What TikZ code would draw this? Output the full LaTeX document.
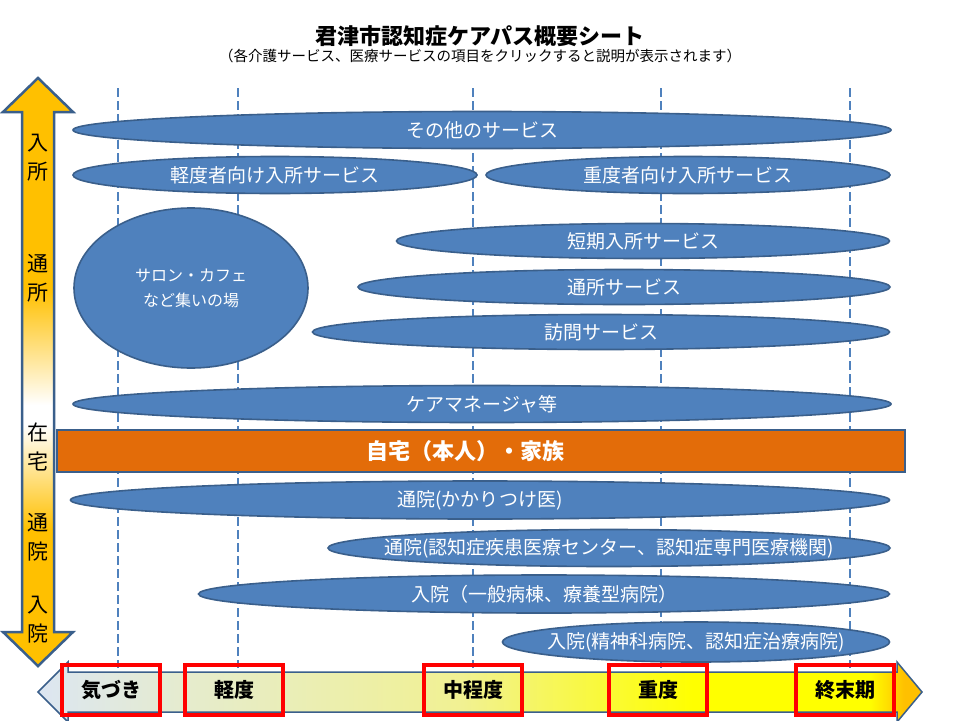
\documentclass[tikz,border=0pt]{standalone}
\usepackage{fontspec}
\setmainfont{Noto Sans CJK JP}
\usepackage{tikz}
\usetikzlibrary{shapes.geometric}

\definecolor{svcblue}{HTML}{4F81BD}
\definecolor{svcline}{HTML}{3A5F8B}
\definecolor{homeorange}{HTML}{E36C09}
\definecolor{amber}{HTML}{FFC000}
\definecolor{earlygrey}{HTML}{DCE6F2}
\definecolor{palegreen}{HTML}{E6ECCB}
\definecolor{paleyellow}{HTML}{F1F192}

% vertical shading of the left arrow: amber at both ends, white at home
\pgfdeclareverticalshading{stayshade}{100bp}{color(0bp)=(amber); color(36.6bp)=(amber); color(45.5bp)=(white); color(47.2bp)=(white); color(57bp)=(amber); color(100bp)=(amber)}
% horizontal shading of the stage arrow
\pgfdeclarehorizontalshading{stageshade}{100bp}{color(0bp)=(earlygrey); color(25bp)=(earlygrey); color(34bp)=(palegreen); color(49bp)=(paleyellow); color(62bp)=(yellow); color(72bp)=(yellow); color(74bp)=(amber); color(100bp)=(amber)}

\tikzset{
  svc/.style 2 args={ellipse, draw=svcline, fill=svcblue, line width=1.6pt,
    minimum width=#1, minimum height=#2, inner sep=0pt},
  svclabel/.style={text=white, font=\fontsize{19}{23}\selectfont},
  guide/.style={svcblue, line width=2pt, dash pattern=on 9pt off 4pt},
  stagebox/.style={draw=red, line width=4.5pt, minimum width=98pt, minimum height=50pt,
    inner sep=0pt, font=\fontsize{20}{24}\selectfont\bfseries},
  sidelabel/.style={align=center, font=\fontsize{21}{29}\selectfont}
}

\begin{document}
\begin{tikzpicture}[x=1pt,y=-1pt]
\useasboundingbox (0,0) rectangle (960,720);
\fill[white] (0,0) rectangle (960,720);
% title
\node[font=\fontsize{22}{26}\selectfont\bfseries] (title) at (480,36) {君津市認知症ケアパス概要シート};
\node[font=\fontsize{14.5}{17}\selectfont] (subtitle) at (480,56) {（各介護サービス、医療サービスの項目をクリックすると説明が表示されます）};
% stage guides
\foreach \x in {118,238,473,661,850}
  \draw[guide] (\x,88) -- (\x,668);
% services
\node[svc={818pt}{37pt}, label={[svclabel]center:その他のサービス}] (other) at (482,130) {};
\node[svc={404pt}{37pt}, label={[svclabel]center:軽度者向け入所サービス}] (mildres) at (275,175) {};
\node[svc={404pt}{37pt}, label={[svclabel]center:重度者向け入所サービス}] (severeres) at (688,175) {};
\node[svc={234pt}{160pt}, label={[svclabel,align=center,font=\fontsize{16}{25}\selectfont]center:サロン・カフェ\\など集いの場}] (salon) at (191,288) {};
\node[svc={493pt}{35pt}, label={[svclabel]center:短期入所サービス}] (shortstay) at (643,241) {};
\node[svc={532pt}{35pt}, label={[svclabel]center:通所サービス}] (daycare) at (624,287) {};
\node[svc={577pt}{35pt}, label={[svclabel]center:訪問サービス}] (visit) at (601,332) {};
\node[svc={818pt}{37pt}, label={[svclabel]center:ケアマネージャ等}] (caremgr) at (482,404) {};
% home
\node[draw=svcline, fill=homeorange, line width=2.5pt, minimum width=848pt, minimum height=42pt, inner sep=0pt,
  label={[xshift=-16pt, text=white, font=\fontsize{22}{26}\selectfont\bfseries]center:自宅（本人）・家族}] (home) at (481,451) {};
% medical
\node[svc={819pt}{38pt}, label={[svclabel]center:通院(かかりつけ医)}] (gp) at (480,500) {};
\node[svc={562pt}{37pt}, label={[svclabel]center:通院(認知症疾患医療センター、認知症専門医療機関)}] (dementiactr) at (609,548) {};
\node[svc={691pt}{38pt}, label={[svclabel]center:入院（一般病棟、療養型病院）}] (hospital) at (544,594) {};
\node[svc={387pt}{40pt}, label={[svclabel]center:入院(精神科病院、認知症治療病院)}] (psych) at (696,642) {};
% left arrow
\draw[svcline, line width=2.5pt, shading=stayshade]
  (38,78) -- (73,112) -- (54,112) -- (54,632) -- (73,632) -- (38,666)
  -- (3,632) -- (22,632) -- (22,112) -- (3,112) -- cycle;
\node[sidelabel] (admit) at (38,158) {入\\所};
\node[sidelabel] (dayuse) at (38,278) {通\\所};
\node[sidelabel] (athome) at (38,447) {在\\宅};
\node[sidelabel] (outpat) at (38,537) {通\\院};
\node[sidelabel] (inpat) at (38,620) {入\\院};
% stage arrow
\draw[svcline, line width=1.5pt, shading=stageshade]
  (38,692) -- (68,662) -- (68,672) -- (897,672) -- (897,662) -- (922,692)
  -- (897,722) -- (897,712) -- (68,712) -- (68,722) -- cycle;
\node[stagebox] (notice) at (111,690) {気づき};
\node[stagebox] (mild) at (234,690) {軽度};
\node[stagebox] (moderate) at (473,690) {中程度};
\node[stagebox] (severe) at (658,690) {重度};
\node[stagebox] (terminal) at (845,690) {終末期};
\end{tikzpicture}
\end{document}
